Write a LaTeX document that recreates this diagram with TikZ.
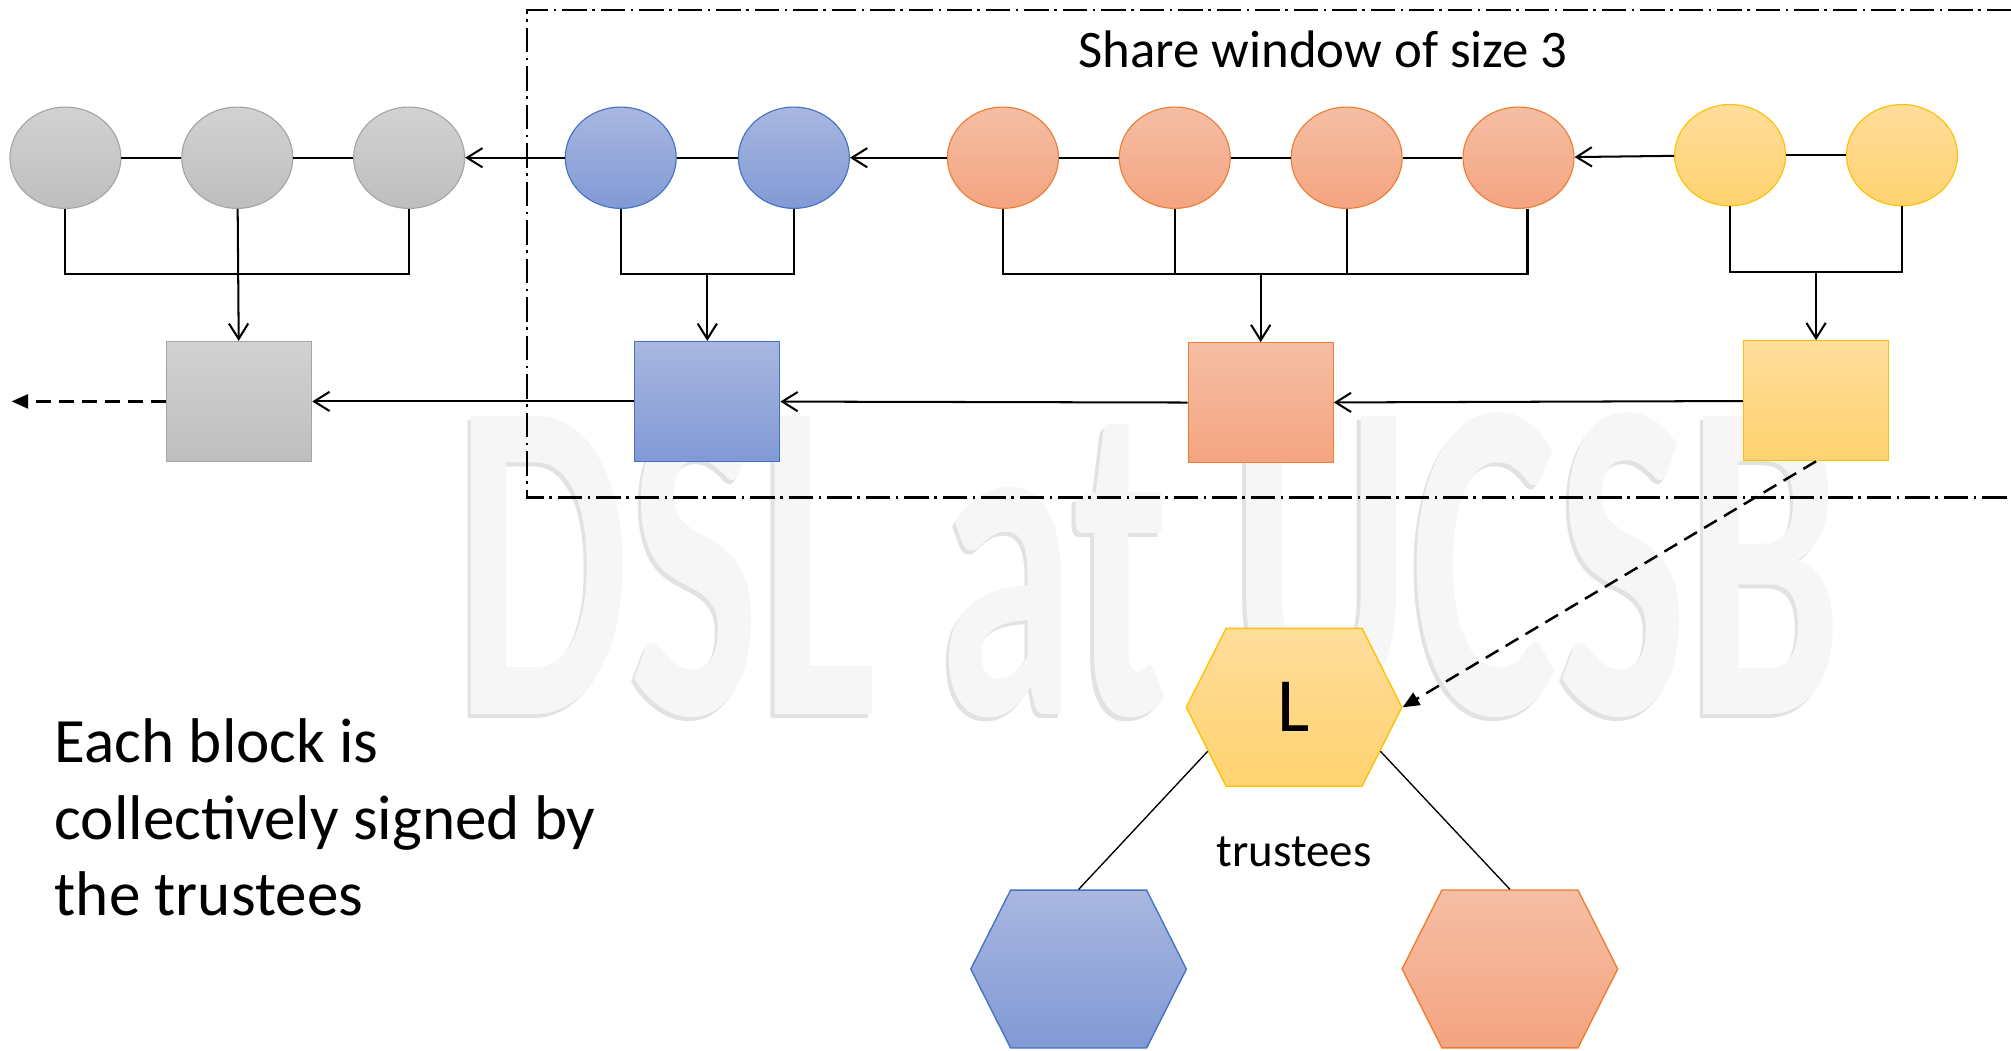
\documentclass[tikz,border=0pt]{standalone}
\usepackage{fontspec}
\setmainfont{Carlito}
\usepackage{graphicx}
\usepackage{tikz}
\usetikzlibrary{arrows.meta, shapes.geometric, shapes.symbols}
\definecolor{grayhi}{RGB}{210,210,210}
\definecolor{graylo}{RGB}{190,190,190}
\definecolor{grayedge}{RGB}{165,165,165}
\definecolor{bluehi}{RGB}{169,183,224}
\definecolor{bluelo}{RGB}{129,153,213}
\definecolor{blueedge}{RGB}{68,114,196}
\definecolor{orangehi}{RGB}{245,190,165}
\definecolor{orangelo}{RGB}{244,164,128}
\definecolor{orangeedge}{RGB}{237,125,49}
\definecolor{yellowhi}{RGB}{255,221,155}
\definecolor{yellowlo}{RGB}{255,211,112}
\definecolor{yellowedge}{RGB}{255,192,0}
\definecolor{markfill}{RGB}{246,246,246}
\definecolor{markshade}{RGB}{226,226,226}

\begin{document}
\begin{tikzpicture}[x=0.01cm, y=-0.01cm, every node/.style={inner sep=0pt},
    tx/.style={ellipse, minimum width=0.865cm, minimum height=0.79cm, line width=0.25pt},
    blk/.style={rectangle, minimum width=1.13cm, minimum height=0.935cm, line width=0.25pt},
    hexa/.style={signal, signal to=west and east, signal pointer angle=126.5,
      minimum width=1.68cm, minimum height=1.23cm, line width=0.3pt},
    graypaint/.style={top color=grayhi, bottom color=graylo, draw=grayedge},
    bluepaint/.style={top color=bluehi, bottom color=bluelo, draw=blueedge},
    orangepaint/.style={top color=orangehi, bottom color=orangelo, draw=orangeedge},
    yellowpaint/.style={top color=yellowhi, bottom color=yellowlo, draw=yellowedge},
    wmtext/.style={anchor=base, font=\fontsize{102}{102}\selectfont\bfseries},
    link/.style={line width=0.45pt},
    thinlink/.style={line width=0.3pt},
    arr/.style={link, -{Straight Barb[length=1.2mm, width=1.5mm]}},
    dashlink/.style={line width=0.55pt, dash pattern=on 1.15mm off 0.65mm,
      -{Triangle[length=1.3mm, width=1.1mm]}},
    window/.style={line width=0.5pt, dash pattern=on 1.9mm off 0.45mm on 0.2mm off 0.45mm}]
  \useasboundingbox[fill=white] (0,0) rectangle (1568,819);
  % Watermark
  \node[wmtext, text=markshade] (wmshade) at (893.5,560) {\scalebox{0.6}[1]{DSL at UCSB}};
  \node[wmtext, text=markfill] (wm) at (896,557.5) {\scalebox{0.6}[1]{DSL at UCSB}};
  % Share window
  \draw[window] (1568,8) -- (411,8) -- (411,388) -- (1568,388);
  \node[anchor=base, font=\fontsize{11.7}{14}\selectfont] (wintitle) at (1031.6,53) {Share window of size 3};
  % Transactions
  \foreach \x/\y/\n/\c in {51/123/g1/graypaint, 185/123/g2/graypaint, 319/123/g3/graypaint,
      484/123/b1/bluepaint, 619/123/b2/bluepaint,
      782/123/o1/orangepaint, 916/123/o2/orangepaint, 1050/123/o3/orangepaint, 1184/123/o4/orangepaint,
      1349/121/y1/yellowpaint, 1483/121/y2/yellowpaint}{
    \node[tx, \c] (\n) at (\x,\y) {};
  }
  \draw[link] (g1) -- (g2) -- (g3);
  \draw[link] (b1) -- (b2);
  \draw[link] (o1) -- (o2) -- (o3) -- (o4);
  \draw[link] (y1) -- (y2);
  \draw[arr] (b1) -- (g3);
  \draw[arr] (o1) -- (b2);
  \draw[arr] (y1) -- (o4);
  % Blocks
  \node[blk, graypaint] (gbox) at (186.5,313) {};
  \node[blk, bluepaint] (bbox) at (551.5,313) {};
  \node[blk, orangepaint] (obox) at (983,314) {};
  \node[blk, yellowpaint] (ybox) at (1416,312.5) {};
  % Brackets into blocks
  \draw[link] (g1.south) -- ++(0,51) -| (g3.south);
  \draw[arr] (g2) -- (gbox);
  \draw[link] (b1.south) -- ++(0,51) -| (b2.south);
  \coordinate (bjoin) at (551.5,213.5);
  \draw[arr] (bjoin) -- (bbox);
  \draw[link] (o1.south) -- ++(0,51) -| ([xshift=0.07cm]o4.south);
  \draw[link] (o2.south) -- ++(0,51);
  \draw[link] (o3.south) -- ++(0,51);
  \coordinate (ojoin) at (983,213.5);
  \draw[arr] (ojoin) -- (obox);
  \draw[link] (y1.south) -- ++(0,51.3) -| (y2.south);
  \coordinate (yjoin) at (1416,211.8);
  \draw[arr] (yjoin) -- (ybox);
  % Chain of blocks
  \draw[arr] (ybox) -- (obox);
  \draw[arr] (obox) -- (bbox);
  \draw[arr] (bbox) -- (gbox);
  \coordinate (past) at (9,313);
  \draw[dashlink] (gbox) -- (past);
  % Trustees
  \node[hexa, yellowpaint, font=\fontsize{17}{17}\selectfont] (lead) at (1009,551.5) {L};
  \node[hexa, bluepaint] (tblue) at (841,755.6) {};
  \node[hexa, orangepaint] (torange) at (1177.3,755.5) {};
  \draw[thinlink] (lead.-153) -- (tblue.north);
  \draw[thinlink] (lead.-27) -- (torange.north);
  \draw[dashlink] (ybox.south) -- (lead.east);
  \node[anchor=base, font=\fontsize{10.4}{12}\selectfont] (trust) at (1009,675.8) {trustees};
  \node[anchor=base west, align=left, font=\fontsize{14}{17}\selectfont] (note) at (42,714)
    {Each block is\\collectively signed by\\the trustees};
\end{tikzpicture}
\end{document}
